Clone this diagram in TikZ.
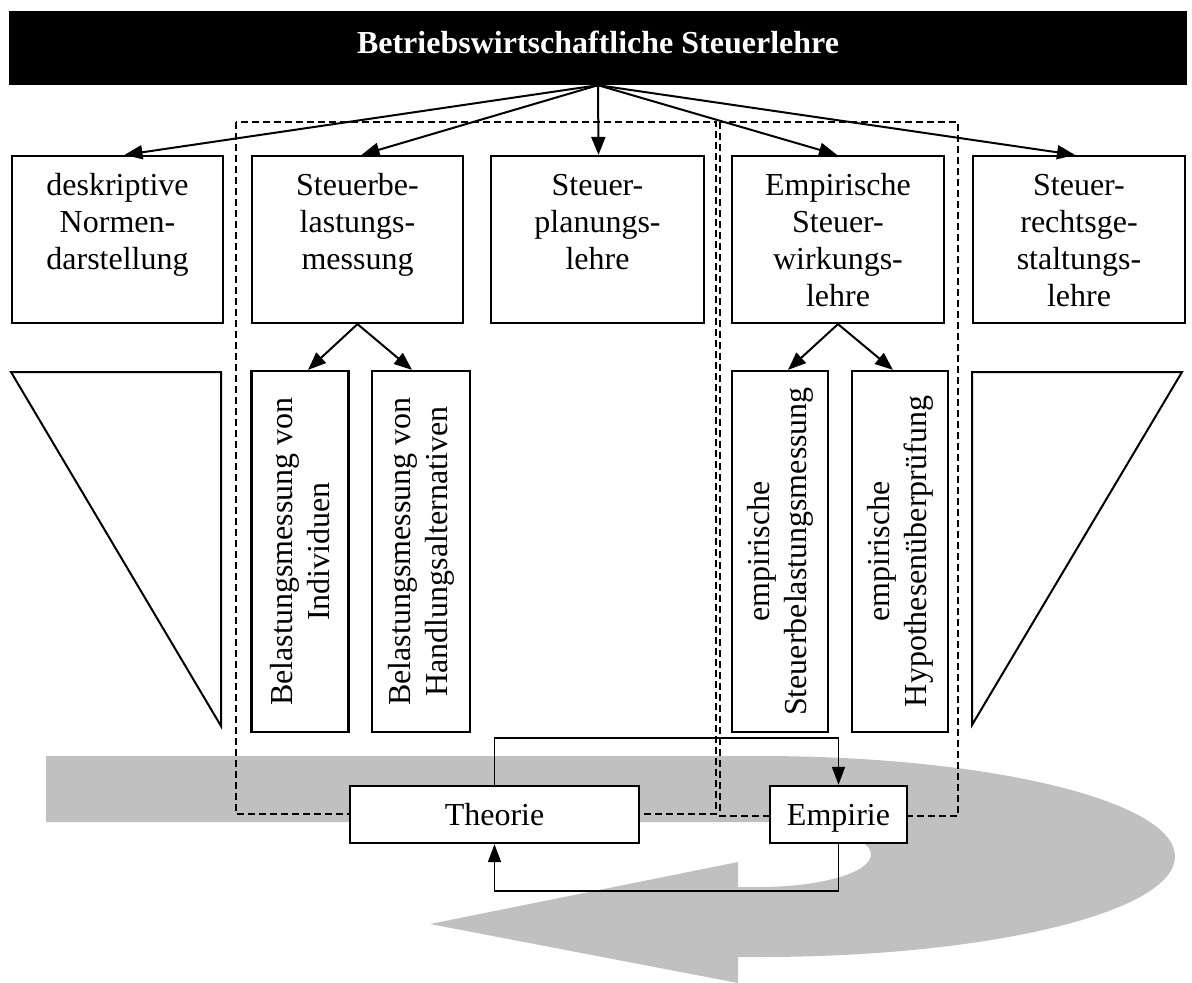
\documentclass[tikz,border=0pt]{standalone}
\usepackage{fontspec}
\setmainfont{Liberation Serif}
\usetikzlibrary{arrows.meta,calc}
\definecolor{arrowgray}{RGB}{192,192,192}
\begin{document}
\begin{tikzpicture}[x=1pt,y=-1pt,
  txt/.style={font=\fontsize{32}{37}\selectfont},
  topbox/.style={draw, line width=2.2pt, minimum width=211pt, minimum height=167pt, inner sep=0pt},
  boxtext/.style={txt, text width=208pt, align=center, inner sep=0pt, anchor=base},
  subbox/.style={draw, line width=2.2pt, minimum width=97pt, minimum height=361pt, inner sep=0pt},
  subtext/.style={txt, rotate=90, align=center, inner sep=0pt},
  loopbox/.style={draw, fill=white, line width=2.4pt, minimum height=57pt, inner sep=0pt, txt, text height=22pt, text depth=0pt},
  conn/.style={line width=2pt, -{Triangle[length=18pt,width=14pt]}},
  loopconn/.style={line width=1.8pt, -{Triangle[length=18pt,width=13pt]}},
  groupline/.style={line width=2pt, dash pattern=on 7pt off 4pt},
  tri/.style={draw, line width=2pt, line join=miter}
]
\useasboundingbox (0,0) rectangle (1192,983);

% grey circular arrow (background)
\fill[arrowgray] (46,756) -- (760,756)
  .. controls (989.2,756) and (1175,801) .. (1175,856.5)
  .. controls (1175,912) and (989.2,957) .. (760,957)
  -- (738,957) -- (738,983) -- (430,924) -- (738,862) -- (738,887) -- (760,887)
  .. controls (821.3,887) and (871,872.4) .. (871,854.5)
  .. controls (871,836.6) and (821.3,822) .. (760,822)
  -- (46,822) -- cycle;

% dashed groups
\draw[groupline] (236,122) rectangle (716,814);
\draw[groupline] (720,122) rectangle (958,816);

% title
\node[fill=black, text=white, minimum width=1178pt, minimum height=74pt, inner sep=0pt,
      font=\bfseries\fontsize{32}{37}\selectfont, text height=22pt, text depth=12pt]
      (title) at (598,48) {Betriebswirtschaftliche Steuerlehre};

% top boxes
\node[topbox] (b1) at (117.5,239.5) {};
\node[topbox] (b2) at (357.5,239.5) {};
\node[topbox, minimum width=213pt] (b3) at (597.5,239.5) {};
\node[topbox, minimum width=212pt] (b4) at (838,239.5) {};
\node[topbox, minimum width=212pt] (b5) at (1079,239.5) {};

\node[boxtext] (t1) at (117.5,195) {deskriptive\\Normen-\\darstellung};
\node[boxtext] (t2) at (357.5,195) {Steuerbe-\\lastungs-\\messung};
\node[boxtext] (t3) at (597.5,195) {Steuer-\\planungs-\\lehre};
\node[boxtext] (t4) at (838,195) {Empirische\\Steuer-\\wirkungs-\\lehre};
\node[boxtext] (t5) at (1079,195) {Steuer-\\rechtsge-\\staltungs-\\lehre};

% triangles
\draw[tri] (11,372) -- (221,372) -- (221,726) -- cycle;
\draw[tri] (972,372) -- (1182,372) -- (972,725) -- cycle;

% sub boxes
\node[subbox] (sA) at (300,551.5) {};
\node[subbox, minimum width=98pt] (sB) at (421,551.5) {};
\node[subbox, minimum width=96pt] (sC) at (780,551.5) {};
\node[subbox, minimum width=96pt] (sD) at (900,551.5) {};

\node[subtext] (tA) at (300,551.5) {Belastungsmessung von\\Individuen};
\node[subtext] (tB) at (421,551.5) {Belastungsmessung von\\Handlungsalternativen};
\node[subtext] (tC) at (780,551.5) {empirische\\Steuerbelastungsmessung};
\node[subtext] (tD) at (900,551.5) {empirische\\Hypothesenüberprüfung};

% Theorie / Empirie
\node[loopbox, minimum width=289pt] (theo) at (494.5,814.5) {Theorie};
\node[loopbox, minimum width=137pt] (emp) at (838.5,814.5) {Empirie};

% connectors from title
\draw[conn] (title.south) -- ([xshift=7pt]b1.north);
\draw[conn] (title.south) -- ([xshift=4pt]b2.north);
\draw[conn] (title.south) -- ([xshift=1pt]b3.north);
\draw[conn] (title.south) -- ([xshift=-1pt]b4.north);
\draw[conn] (title.south) -- ([xshift=-4pt]b5.north);

% sub connectors
\draw[conn] (b2.south) -- ([xshift=8pt]sA.north);
\draw[conn] (b2.south) -- ([xshift=-9pt]sB.north);
\draw[conn] (b4.south) -- ([xshift=8pt]sC.north);
\draw[conn] (b4.south) -- ([xshift=-7pt]sD.north);

% loop
\coordinate (looptop) at (494.5,738);
\coordinate (loopbot) at (494.5,891);
\draw[loopconn] (theo.north) -- (looptop) -| (emp.north);
\draw[loopconn] (emp.south) |- (loopbot) -- (theo.south);
\end{tikzpicture}
\end{document}
